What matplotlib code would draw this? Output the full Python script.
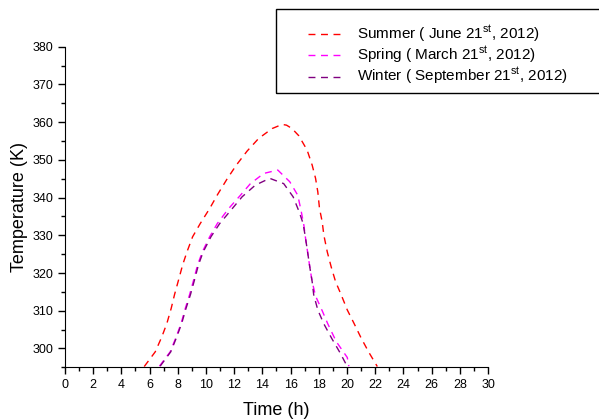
import numpy as np
import matplotlib
matplotlib.use("Agg")
import matplotlib.pyplot as plt
from matplotlib.ticker import MultipleLocator
from matplotlib.patches import Rectangle

plt.rcParams['font.family'] = ['Liberation Sans', 'DejaVu Sans']
plt.rcParams['mathtext.fontset'] = 'custom'
plt.rcParams['mathtext.rm'] = 'Liberation Sans'

# summer (June 21st)
t_summer = [5.62, 6.40, 6.87, 7.23, 7.53, 7.77, 8.05, 8.34, 8.65, 9.05, 9.59, 10.26, 10.82,
            11.49, 12.15, 12.91, 13.74, 14.69, 15.4, 15.71, 16.1, 16.58, 17.17, 17.53, 17.77,
            17.93, 18.05, 18.24, 18.36, 18.60, 18.88, 19.19, 19.59, 20.02, 20.49, 21.01,
            21.56, 22.15]
T_summer = [295.2, 299.1, 303.1, 306.7, 310.6, 314.3, 318.1, 322.1, 325.6, 329.6, 333.1, 337.1, 340.8,
            344.9, 348.6, 352.3, 355.7, 358.3, 359.4, 359.2, 358.3, 356.4, 352.6, 348.6, 345.1,
            341.5, 337.1, 333.6, 330.0, 325.6, 321.6, 317.7, 314.2, 310.2, 306.7, 302.7,
            298.9, 295.2]

# spring (March 21st)
t_spring = [6.7, 7.46, 7.89, 8.24, 8.53, 8.84, 9.12, 9.40, 9.74, 10.26, 10.80, 11.61, 12.44,
            13.15, 14.10, 15.09, 15.94, 16.51, 16.75, 16.94, 17.06, 17.22, 17.36, 17.53, 17.77,
            18.24, 18.64, 19.24, 20.02, 20.13]
T_spring = [295.3, 299.1, 303.1, 306.7, 310.6, 314.3, 318.1, 322.1, 325.6, 329.6, 333.1, 337.1, 340.6,
            343.7, 346.4, 347.3, 344.2, 340.6, 336.4, 332.7, 329.2, 325.2, 321.6, 317.7, 313.9,
            310.0, 306.5, 301.8, 297.6, 295.3]

# winter (September 21st)
t_winter = [6.75, 7.5, 7.93, 8.28, 8.58, 8.9, 9.18, 9.46, 9.8, 10.35, 10.97, 11.78, 12.56,
            13.50, 14.52, 15.51, 16.18, 16.61, 16.89, 17.06, 17.22, 17.36, 17.53, 17.64, 17.93,
            18.36, 18.91, 19.50, 20.02]
T_winter = [295.3, 299.1, 303.1, 306.7, 310.6, 314.3, 318.1, 322.1, 325.6, 329.6, 333.1, 336.7, 340.2,
            343.3, 345.1, 343.7, 340.2, 336.2, 333.1, 329.2, 325.2, 321.6, 317.7, 314.2, 310.2,
            306.5, 302.7, 298.9, 295.2]

labels = ['Summer ( June 21$^{\\rm st}$, 2012)',
          'Spring ( March 21$^{\\rm st}$, 2012)',
          'Winter ( September 21$^{\\rm st}$, 2012)']

fig = plt.figure(figsize=(5.99, 4.2), dpi=100)
ax = fig.add_axes([0.1085, 0.1255, 0.7062, 0.7633])

dash = (0, (5, 4))
l1, = ax.plot(t_summer, T_summer, color='#ff0000', lw=1.0, linestyle=dash)
l2, = ax.plot(t_spring, T_spring, color='#ff00ff', lw=1.0, linestyle=dash)
l3, = ax.plot(t_winter, T_winter, color='#800080', lw=1.0, linestyle=dash)

ax.set_xlim(0, 30)
ax.set_ylim(295, 380)
ax.xaxis.set_major_locator(MultipleLocator(2))
ax.xaxis.set_minor_locator(MultipleLocator(1))
ax.yaxis.set_minor_locator(MultipleLocator(5))
ax.set_yticks(np.arange(300, 381, 10))
ax.spines['top'].set_visible(False)
ax.spines['right'].set_visible(False)
ax.tick_params(which='major', direction='out', length=5, width=1, labelsize=9)
ax.tick_params(which='minor', direction='out', length=3, width=1)

ax.set_xlabel('Time (h)', fontsize=13, labelpad=7.5)
ax.set_ylabel('Temperature (K)', fontsize=13, labelpad=3)

# legend frame runs off the right edge of the figure
fig.patches.append(Rectangle((276 / 599, 1 - 93.3 / 420), 330 / 599, 84 / 420,
                             transform=fig.transFigure, fill=False,
                             edgecolor='black', lw=1.0, clip_on=False))
fig.legend([l1, l2, l3], labels, loc='upper left',
           bbox_to_anchor=(308 / 599, 1 - 23.5 / 420), fontsize=11, frameon=False,
           handlelength=2.3, handletextpad=0.9, labelspacing=0.0,
           borderpad=0, borderaxespad=0)

fig.savefig('out.png', dpi=100)
